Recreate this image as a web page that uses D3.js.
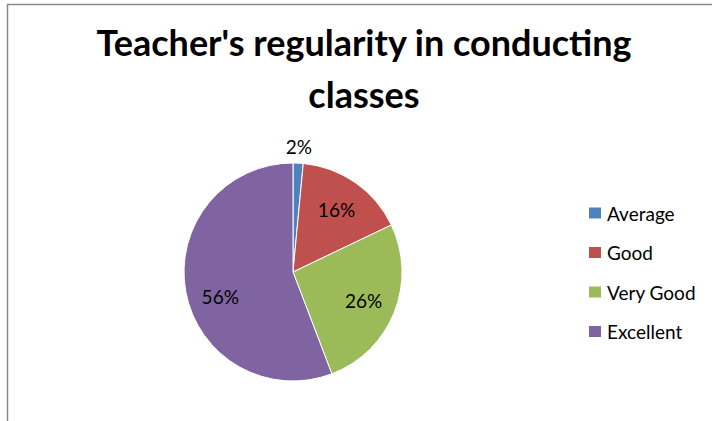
<!DOCTYPE html>
<html><head><meta charset="utf-8">
<script src="https://cdn.jsdelivr.net/npm/d3@7"></script>
<style>html,body{margin:0;padding:0;background:#fff;overflow:hidden}</style>
</head><body>
<svg id="chart" width="712" height="421"></svg>
<script>
const titleLines = ["Teacher's regularity in conducting", "classes"];
const categories = ["Average", "Good", "Very Good", "Excellent"];
const values = [1.5, 16.4, 26.3, 55.8];
const colors = ["#4F81BD", "#C0504D", "#9BBB59", "#8064A2"];

const svg = d3.select("#chart");
const FONT = "Lato, 'Open Sans', sans-serif";

// frame (chart area border, partially cropped)
svg.append("rect").attr("x", 7.5).attr("y", 4.5).attr("width", 800).attr("height", 600)
  .attr("fill", "#fff").attr("stroke", "#8a8a8a").attr("stroke-width", 1.5);

// title
const title = svg.append("g");
titleLines.forEach((t, i) => {
  title.append("text").attr("x", 364).attr("y", 56 + i * 52)
    .attr("text-anchor", "middle").attr("font-family", FONT).attr("font-weight", "bold")
    .attr("font-size", 36).attr("fill", "#000").text(t);
});

// pie
const cx = 293, cy = 272, r = 109;
const total = d3.sum(values);
const pie = d3.pie().sort(null).value(d => d)(values);
const arc = d3.arc().innerRadius(0).outerRadius(r);
const g = svg.append("g").attr("transform", `translate(${cx},${cy})`);
g.selectAll("path").data(pie).join("path")
  .attr("d", arc).attr("fill", (d, i) => colors[i])
  .attr("stroke", "#fff").attr("stroke-width", 1);

// labels (Excel best-fit style)
const labelRadius = [126, 76, 76, 76];
const labelNudge = [[0, 0], [0, 0], [0, 0], [2, 11]];
g.selectAll("text.lbl").data(pie).join("text").attr("class", "lbl")
  .attr("transform", (d, i) => {
    const a = (d.startAngle + d.endAngle) / 2;
    const x = Math.sin(a) * labelRadius[i] + labelNudge[i][0];
    const y = -Math.cos(a) * labelRadius[i] + labelNudge[i][1];
    return `translate(${x},${y})`;
  })
  .attr("text-anchor", "middle").attr("dominant-baseline", "central")
  .attr("font-family", FONT).attr("font-size", 19).attr("fill", "#000")
  .text(d => Math.round(d.data / total * 100) + "%");

// legend
const legend = svg.append("g").attr("transform", "translate(589,213)");
const rows = legend.selectAll("g").data(categories).join("g")
  .attr("transform", (d, i) => `translate(0,${i * 39.5})`);
rows.append("rect").attr("x", 0).attr("y", -5.5).attr("width", 12).attr("height", 11)
  .attr("fill", (d, i) => colors[i]);
rows.append("text").attr("x", 18).attr("y", 0).attr("dominant-baseline", "central")
  .attr("font-family", FONT).attr("font-size", 19).attr("fill", "#000").text(d => d);
</script>
</body></html>
